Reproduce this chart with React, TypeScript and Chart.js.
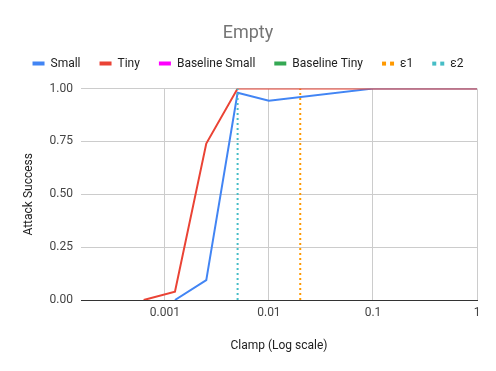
import React, { useEffect, useRef } from "react";
import { Chart, registerables } from "chart.js";

Chart.register(...registerables);

const clampValues = [0.00015625, 0.0003125, 0.000625, 0.00125, 0.0025, 0.005, 0.01, 0.1, 1];
const smallValues = [null, null, null, 0, 0.094, 0.98, 0.943, 1, 1];
const tinyValues = [null, null, 0, 0.039, 0.74, 1, 1, 1, 1];
const epsilon1 = 0.02;
const epsilon2 = 0.005;
const xTickValues = [0.001, 0.01, 0.1, 1];
const xTickLabels = ["0.001", "0.01", "0.1", "1"];
const yTickValues = [0, 0.25, 0.5, 0.75, 1];

const seriesNames = ["Small", "Tiny", "Baseline Small", "Baseline Tiny", "ε1", "ε2"];
const seriesColors = ["#4285f4", "#ea4335", "#ff00ff", "#34a853", "#ff9900", "#46bdc6"];

const toPoints = (vals: (number | null)[]) =>
  clampValues.map((x, i) => ({ x, y: vals[i] }));

const legendMargin = {
  id: "legendMargin",
  beforeInit(chart: any) {
    const legend = chart.legend;
    if (!legend) return;
    const orig = legend.fit;
    legend.fit = function () {
      orig.call(this);
      this.height += 9;
    };
  },
};

export default function App() {
  const ref = useRef<HTMLCanvasElement | null>(null);
  useEffect(() => {
    if (!ref.current) return;
    const chart = new Chart(ref.current, {
      type: "line",
      plugins: [legendMargin],
      data: {
        datasets: [
          { label: seriesNames[0], data: toPoints(smallValues) as any, borderColor: seriesColors[0], backgroundColor: seriesColors[0], borderWidth: 2, pointRadius: 0, order: 2 },
          { label: seriesNames[1], data: toPoints(tinyValues) as any, borderColor: seriesColors[1], backgroundColor: seriesColors[1], borderWidth: 2, pointRadius: 0, order: 1 },
          { label: seriesNames[2], data: [], borderColor: seriesColors[2], backgroundColor: seriesColors[2], borderWidth: 2, pointRadius: 0, order: 3 },
          { label: seriesNames[3], data: [], borderColor: seriesColors[3], backgroundColor: seriesColors[3], borderWidth: 2, pointRadius: 0, order: 4 },
          { label: seriesNames[4], data: [{ x: epsilon1, y: 0 }, { x: epsilon1, y: 1 }], borderColor: seriesColors[4], backgroundColor: seriesColors[4], borderWidth: 2, borderDash: [2, 3], pointRadius: 0, order: 5 },
          { label: seriesNames[5], data: [{ x: epsilon2, y: 0 }, { x: epsilon2, y: 1 }], borderColor: seriesColors[5], backgroundColor: seriesColors[5], borderWidth: 2, borderDash: [2, 3], pointRadius: 0, order: 0 },
        ],
      },
      options: {
        animation: false,
        responsive: false,
        maintainAspectRatio: false,
        layout: { padding: { left: 0, right: 0, top: 0, bottom: 0 } },
        plugins: {
          tooltip: { enabled: false },
          title: {
            display: true,
            text: "Empty",
            color: "#757575",
            font: { family: "Roboto", size: 18, weight: "normal" as any, lineHeight: 1.2 },
            padding: { top: 23, bottom: -6 },
          },
          legend: {
            display: true,
            labels: {
              color: "#222222",
              font: { family: "Roboto", size: 12 },
              usePointStyle: true,
              pointStyleWidth: 12,
              padding: 19,
              generateLabels: (c: any) => {
                const items = (Chart.defaults.plugins.legend.labels as any).generateLabels(c);
                items.sort((a: any, b: any) => a.datasetIndex - b.datasetIndex);
                return items.map((it: any) => ({
                  ...it,
                  pointStyle: "line",
                  lineWidth: 4,
                  lineDash: it.datasetIndex >= 4 ? [4, 4] : [],
                  strokeStyle: seriesColors[it.datasetIndex],
                  fillStyle: seriesColors[it.datasetIndex],
                }));
              },
            },
          },
        },
        scales: {
          x: {
            type: "logarithmic",
            min: clampValues[0],
            max: 1,
            afterBuildTicks: (s: any) => {
              s.ticks = xTickValues.map((v) => ({ value: v }));
            },
            afterFit: (s: any) => {
              s.height = 71;
            },
            ticks: {
              autoSkip: false,
              maxRotation: 0,
              padding: 6,
              color: "#444444",
              font: { family: "Roboto", size: 12 },
              callback: (v: any) => {
                const i = xTickValues.findIndex((t) => Math.abs(t - v) < t * 1e-6);
                return i >= 0 ? xTickLabels[i] : "";
              },
            },
            grid: { color: "#cccccc", drawTicks: false, lineWidth: 1 },
            border: { display: true, color: "#333333", width: 1 },
            title: {
              display: true,
              text: "Clamp (Log scale)",
              color: "#222222",
              font: { family: "Roboto", size: 12 },
              padding: { top: 0, bottom: 18 },
            },
          },
          y: {
            type: "linear",
            min: 0,
            max: 1,
            afterBuildTicks: (s: any) => {
              s.ticks = yTickValues.map((v) => ({ value: v }));
            },
            afterFit: (s: any) => {
              s.width = 81;
            },
            ticks: {
              padding: 8,
              color: "#444444",
              font: { family: "Roboto", size: 12 },
              callback: (v: any) => Number(v).toFixed(2),
            },
            grid: {
              color: (ctx: any) => (ctx.tick && ctx.tick.value === 0 ? "#333333" : "#cccccc"),
              drawTicks: false,
            },
            border: { display: false },
            title: {
              display: true,
              text: "Attack Success",
              color: "#222222",
              font: { family: "Roboto", size: 12 },
              padding: { top: 22, bottom: 0 },
            },
          },
          yRight: {
            type: "linear",
            position: "right",
            display: true,
            min: 0,
            max: 1,
            afterFit: (s: any) => {
              s.width = 19;
            },
            ticks: { display: false },
            grid: { display: false, drawTicks: false },
            border: { display: false },
          },
        },
      } as any,
    });
    return () => chart.destroy();
  }, []);
  return (
    <div style={{ position: "fixed", left: 0, top: 0, width: 496, height: 371, background: "#ffffff" }}>
      <canvas ref={ref} width={496} height={371} style={{ width: 496, height: 371, display: "block" }} />
    </div>
  );
}
